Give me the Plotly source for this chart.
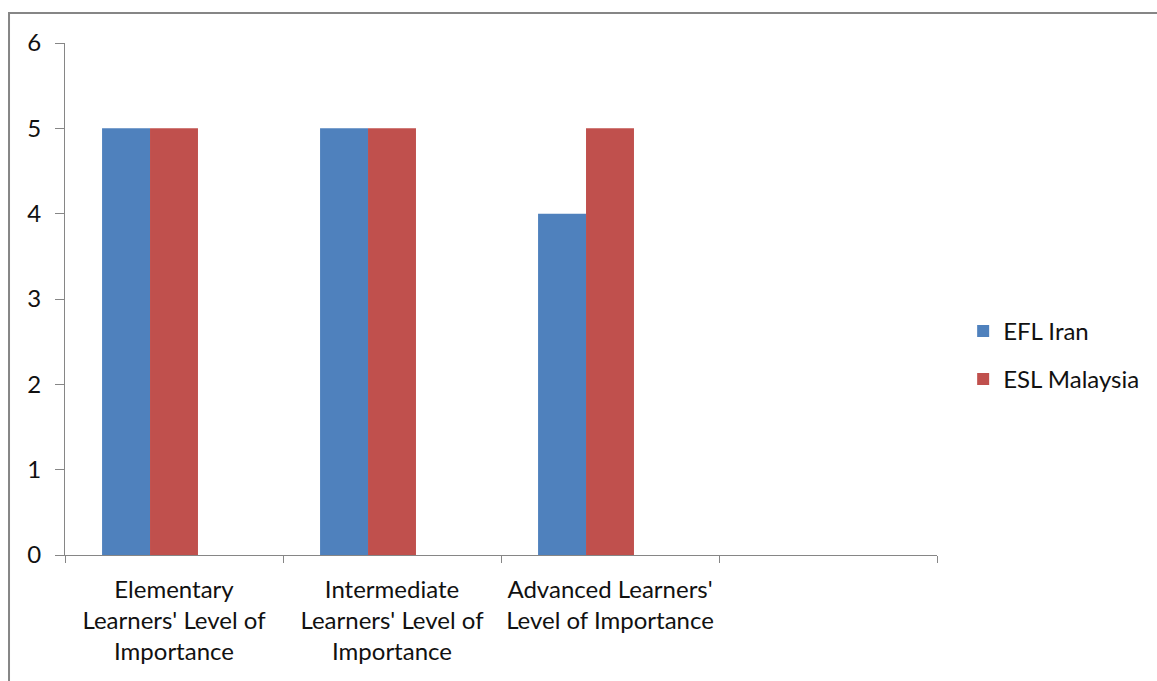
import plotly.graph_objects as go

# Categories (the fourth slot is left empty on the axis)
categories = [
    "Elementary<br>Learners' Level of<br>Importance",
    "Intermediate<br>Learners' Level of<br>Importance",
    "Advanced Learners'<br>Level of Importance",
    " ",
]
efl_iran = [5, 5, 4, None]
esl_malaysia = [5, 5, 5, None]
# third series slot with no values (keeps the grouped bar layout)
empty_series = [None, None, None, None]

FONT = "Lato"
AXIS_GRAY = "#868686"

fig = go.Figure()
fig.add_trace(go.Bar(name="EFL Iran", x=categories, y=efl_iran,
                     marker=dict(color="#4F81BD", line=dict(width=0)),
                     legendgroup="a"))
fig.add_trace(go.Bar(name="ESL Malaysia", x=categories, y=esl_malaysia,
                     marker=dict(color="#C0504D", line=dict(width=0)),
                     legendgroup="b"))
fig.add_trace(go.Bar(name="", x=categories, y=empty_series,
                     marker=dict(color="#9BBB59"), showlegend=False,
                     hoverinfo="skip"))

fig.update_layout(
    width=1157, height=681,
    margin=dict(l=65, r=220, t=43, b=126),
    paper_bgcolor="white", plot_bgcolor="white",
    barmode="group", bargap=0.34, bargroupgap=0,
    font=dict(family=FONT, size=24, color="#111111"),
    legend=dict(x=1.03, y=0.39, xanchor="left", yanchor="middle",
                font=dict(size=24), tracegroupgap=14, itemwidth=30),
    xaxis=dict(type="category", tickson="boundaries", ticks="outside",
               ticklen=7, tickcolor=AXIS_GRAY, showline=True,
               linecolor=AXIS_GRAY, linewidth=1, showgrid=False,
               tickangle=0, tickfont=dict(size=24), ticklabelstandoff=13),
    yaxis=dict(range=[0, 6], dtick=1, ticks="outside", ticklen=9,
               tickcolor=AXIS_GRAY, showline=True, linecolor=AXIS_GRAY,
               linewidth=1, showgrid=False, zeroline=False,
               tickfont=dict(size=24), ticklabelstandoff=9),
    shapes=[dict(type="rect", xref="paper", yref="paper",
                 x0=-0.0642, x1=1.26, y0=-0.27, y1=1.0586,
                 line=dict(color=AXIS_GRAY, width=2), layer="below")],
)

fig.write_html("out.html")
